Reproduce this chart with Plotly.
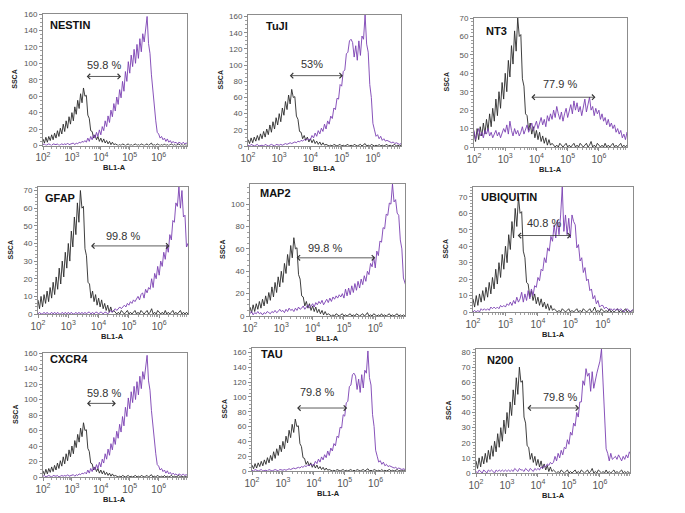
import numpy as np
import plotly.graph_objects as go

# %%
# histogram bins (log10 of BL1-A), 0.05 decade wide
log_bins = np.round(np.arange(2.0, 7.0001, 0.05), 2)
bl1a = 10 ** log_bins

# unstained control (black), same in every panel
control = [8, 3, 10, 4, 11, 6, 13, 7, 15, 9,
           18, 11, 21, 14, 26, 17, 30, 21, 35, 26,
           40, 30, 47, 38, 55, 45, 63, 52, 70, 60,
           61, 37, 33, 18, 17, 9, 13, 7, 11, 5,
           9, 4, 8, 3, 6, 2, 5, 1, 4, 1,
           2, 1, 0, 1, 0, 2, 1, 0, 1, 2,
           0, 1, 0, 1, 2, 0, 1, 0, 2, 1,
           0, 1, 2, 0, 1, 3, 0, 1, 0, 2,
           1, 0, 1, 0, 2, 0, 1, 0, 1, 2,
           0, 1, 0, 1, 2, 0, 1, 0, 1, 0,
           1]

# stained samples (purple)
nestin = [1, 2, 0, 1, 2, 1, 0, 2, 1, 1,
          2, 0, 1, 2, 1, 2, 1, 3, 1, 2,
          2, 3, 1, 3, 2, 4, 3, 5, 4, 6,
          4, 9, 5, 11, 7, 13, 9, 16, 11, 19,
          13, 23, 18, 30, 23, 36, 28, 43, 35, 51,
          42, 59, 50, 68, 58, 78, 66, 90, 78, 102,
          88, 110, 96, 117, 100, 123, 106, 130, 114, 136,
          126, 144, 157, 124, 112, 86, 68, 41, 30, 16,
          14, 9, 11, 7, 9, 5, 8, 4, 6, 3,
          5, 3, 4, 2, 4, 3, 2, 4, 2, 3,
          2]

tuji = [1, 0, 2, 1, 0, 1, 2, 0, 1, 1,
        0, 2, 1, 0, 1, 2, 1, 0, 2, 1,
        1, 2, 1, 2, 3, 2, 3, 4, 3, 4,
        5, 4, 6, 5, 7, 6, 8, 7, 9, 8,
        8, 13, 10, 16, 12, 19, 15, 22, 18, 27,
        21, 31, 27, 37, 34, 47, 45, 59, 58, 76,
        74, 92, 94, 114, 116, 130, 132, 128, 110, 124,
        106, 130, 112, 136, 132, 162, 126, 116, 76, 60,
        28, 20, 12, 14, 9, 12, 7, 9, 6, 7,
        6, 5, 4, 5, 3, 4, 3, 2, 3, 2,
        3]

nt3 = [9, 4, 7, 10, 6, 8, 5, 9, 7, 10,
       6, 8, 5, 7, 9, 6, 8, 5, 7, 10,
       8, 12, 7, 14, 9, 6, 10, 7, 9, 6,
       8, 11, 7, 9, 12, 8, 10, 13, 9, 11,
       14, 10, 13, 16, 12, 15, 11, 17, 14, 18,
       15, 20, 16, 22, 18, 15, 19, 14, 18, 21,
       16, 19, 23, 18, 25, 20, 24, 19, 22, 17,
       21, 26, 19, 23, 27, 20, 22, 17, 21, 18,
       20, 15, 18, 14, 16, 12, 15, 11, 13, 10,
       12, 8, 10, 7, 9, 5, 7, 4, 8, 6,
       7]

gfap = [0, 1, 0, 0, 1, 0, 1, 0, 0, 1,
        0, 1, 0, 1, 0, 0, 1, 0, 1, 0,
        1, 0, 1, 0, 0, 1, 0, 1, 0, 1,
        0, 1, 0, 1, 1, 0, 1, 0, 1, 1,
        0, 1, 1, 0, 1, 1, 0, 1, 2, 1,
        2, 3, 2, 3, 4, 3, 4, 5, 4, 6,
        5, 7, 6, 8, 7, 9, 10, 8, 11, 12,
        9, 14, 12, 15, 14, 20, 15, 23, 20, 27,
        22, 30, 27, 35, 31, 39, 35, 45, 42, 53,
        52, 63, 61, 72, 60, 70, 55, 56, 38, 40,
        33]

map2 = [2, 4, 1, 3, 2, 4, 2, 3, 1, 3,
        2, 4, 3, 2, 4, 3, 5, 3, 4, 6,
        4, 5, 3, 6, 4, 7, 5, 6, 4, 7,
        5, 8, 6, 7, 9, 6, 8, 10, 7, 9,
        11, 8, 12, 10, 13, 11, 14, 10, 13, 15,
        12, 16, 13, 17, 15, 18, 16, 19, 17, 20,
        16, 24, 18, 25, 19, 27, 21, 29, 23, 31,
        25, 33, 28, 36, 31, 40, 37, 47, 44, 53,
        43, 58, 54, 67, 66, 79, 78, 91, 90, 101,
        100, 118, 102, 104, 92, 90, 68, 60, 34, 30,
        25]

ubiquitin = [0, 1, 0, 1, 0, 2, 1, 2, 1, 2,
             1, 3, 2, 3, 2, 3, 2, 4, 3, 4,
             3, 5, 4, 6, 4, 7, 5, 9, 6, 8,
             12, 6, 11, 7, 13, 8, 14, 10, 16, 15,
             21, 19, 26, 25, 33, 30, 39, 37, 46, 43,
             53, 45, 56, 47, 59, 76, 49, 59, 47, 57,
             45, 59, 55, 53, 39, 41, 31, 33, 24, 27,
             19, 20, 13, 14, 8, 10, 5, 7, 3, 4,
             4, 2, 3, 2, 1, 2, 1, 2, 1, 2,
             1, 2, 1, 0, 1, 2, 1, 0, 1, 2,
             1]

n200 = [1, 0, 2, 1, 0, 2, 1, 0, 2, 1,
        2, 1, 0, 2, 1, 2, 1, 2, 1, 2,
        1, 2, 1, 2, 1, 3, 2, 1, 3, 2,
        2, 1, 3, 2, 1, 3, 2, 1, 3, 2,
        3, 2, 4, 3, 5, 4, 6, 5, 7, 6,
        7, 11, 8, 13, 10, 15, 12, 17, 16, 22,
        19, 27, 25, 33, 31, 40, 37, 47, 47, 61,
        58, 69, 64, 66, 54, 67, 56, 60, 66, 70,
        74, 82, 62, 38, 16, 13, 8, 13, 9, 10,
        11, 9, 12, 10, 8, 11, 9, 12, 10, 14,
        12]

markers = ["NESTIN", "TuJI", "NT3", "GFAP", "MAP2", "UBIQUITIN", "CXCR4", "TAU", "N200"]
stained = [nestin, tuji, nt3, gfap, map2, ubiquitin, nestin, tuji, n200]
percent_labels = ["59.8 %", "53%", "77.9 %", "99.8 %", "99.8 %", "40.8 %", "59.8 %", "79.8 %", "79.8 %"]

# %%
# layout of each panel: frame in pixels (left, right, top, bottom), y max, y step, x max (log10)
frames = [(43, 187, 14, 145.5), (248, 401, 15, 146), (474, 627, 18, 147),
          (38, 188, 187, 314), (250, 405, 184, 316), (473, 633, 187, 312),
          (43, 187, 353, 477), (252, 405, 348, 471), (476, 630, 349, 473)]
y_max = [160, 162, 70, 72, 118, 76, 160, 166, 82]
y_step = [20, 20, 10, 10, 20, 10, 20, 20, 10]
x_max = [6.98, 6.9, 6.9, 6.95, 6.95, 6.93, 6.98, 6.95, 6.97]
# gate arrows (log10 start, log10 end, y) and label position (log10 x, y)
arrows = [(3.46, 4.70, 84), (3.29, 5.04, 87), (3.79, 5.89, 27),
          (3.70, 6.34, 38.6), (3.44, 6.00, 52), (3.33, 5.02, 46.5),
          (3.47, 4.52, 95), (3.41, 5.08, 85), (3.61, 5.33, 43)]
text_pos = [(4.12, 98), (4.04, 102), (4.75, 34), (4.80, 44), (4.40, 61),
            (4.19, 54), (4.10, 108), (4.11, 107), (4.71, 50)]
name_pos = [(47.7, 25), (264, 26), (484, 31), (42.7, 198), (257.7, 193),
            (479, 197), (47.7, 359), (259, 354), (485, 360)]

W, H = 685, 513
FONT = "Liberation Sans, Arial, sans-serif"
PURPLE = "#7a3fb2"


def px_x(v):
    return v / W


def px_y(v):
    return 1 - v / H


fig = go.Figure()
annotations = []

for i in range(9):
    n = "" if i == 0 else str(i + 1)
    left, right, top, bottom = frames[i]

    fig.add_trace(go.Scatter(x=bl1a, y=control, mode="lines",
                             line=dict(color="#2a2a2a", width=0.9),
                             xaxis="x" + n, yaxis="y" + n, showlegend=False))
    fig.add_trace(go.Scatter(x=bl1a, y=stained[i], mode="lines",
                             line=dict(color=PURPLE, width=0.9),
                             xaxis="x" + n, yaxis="y" + n, showlegend=False))

    fig.layout["xaxis" + n] = dict(
        domain=[px_x(left), px_x(right)], anchor="y" + n, type="log",
        range=[2, x_max[i]], dtick=1, exponentformat="power", automargin=False,
        showline=True, mirror=True, linecolor="#8c8c8c", linewidth=1,
        ticks="outside", ticklen=3, tickcolor="#8c8c8c",
        minor=dict(ticks="outside", ticklen=2, tickcolor="#a0a0a0"),
        showgrid=False, zeroline=False,
        tickfont=dict(family=FONT, size=8, color="#555555"),
    )
    fig.layout["yaxis" + n] = dict(
        domain=[px_y(bottom), px_y(top)], anchor="x" + n,
        range=[0, y_max[i]], dtick=y_step[i], tick0=0, automargin=False,
        showline=True, mirror=True, linecolor="#8c8c8c", linewidth=1,
        ticks="outside", ticklen=3, tickcolor="#8c8c8c",
        minor=dict(ticks="outside", ticklen=2, tickcolor="#a0a0a0"),
        showgrid=False, zeroline=False,
        tickfont=dict(family=FONT, size=8, color="#555555"),
    )

    # panel name
    annotations.append(dict(
        text="<b>" + markers[i] + "</b>", xref="paper", yref="paper",
        x=px_x(name_pos[i][0]), y=px_y(name_pos[i][1]),
        xanchor="left", yanchor="middle", showarrow=False,
        font=dict(family=FONT, size=11, color="#111111")))
    # gate arrow
    x0, x1, ya = arrows[i]
    annotations.append(dict(
        text="", xref="x" + n, yref="y" + n, x=x1, y=ya,
        axref="x" + n, ayref="y" + n, ax=x0, ay=ya,
        showarrow=True, arrowside="end+start", arrowhead=4,
        arrowsize=1.3, arrowwidth=0.8, arrowcolor="#333333"))
    # percentage
    annotations.append(dict(
        text=percent_labels[i], xref="x" + n, yref="y" + n,
        x=text_pos[i][0], y=text_pos[i][1], showarrow=False,
        xanchor="center", yanchor="middle",
        font=dict(family=FONT, size=11, color="#333333")))
    # axis titles
    annotations.append(dict(
        text="<b>SSCA</b>", xref="paper", yref="paper",
        x=px_x(left - 28), y=px_y((top + bottom) / 2), textangle=-90,
        xanchor="center", yanchor="middle",
        showarrow=False, font=dict(family=FONT, size=7, color="#222222")))
    annotations.append(dict(
        text="<b>BL1-A</b>", xref="paper", yref="paper",
        x=px_x((left + right) / 2), y=px_y(bottom + 22),
        xanchor="center", yanchor="middle",
        showarrow=False, font=dict(family=FONT, size=7.5, color="#222222")))

fig.update_layout(
    template="none",
    width=W, height=H, autosize=False,
    margin=dict(l=0, r=0, t=0, b=0, autoexpand=False),
    paper_bgcolor="white", plot_bgcolor="white",
    annotations=annotations,
)

fig.write_html("out.html", config={"displayModeBar": False},
               post_script="document.body.style.margin='0';")
